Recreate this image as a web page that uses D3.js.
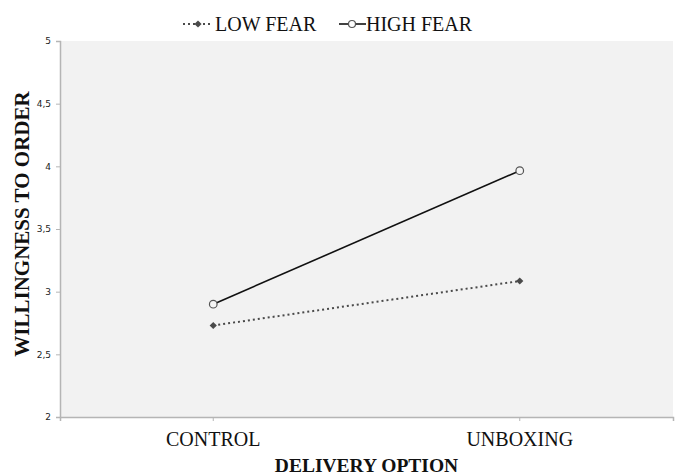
<!DOCTYPE html>
<html>
<head>
<meta charset="utf-8">
<script src="https://cdn.jsdelivr.net/npm/d3@7"></script>
<style>
  body { margin: 0; background: #fff; }
  svg text { font-family: "Liberation Serif", "Times New Roman", serif; }
  .tick text { font-family: "DejaVu Sans", Tahoma, sans-serif; }
</style>
</head>
<body>
<div id="chart"></div>
<script>
// data
const categories = ["CONTROL", "UNBOXING"];
const lowFear = [2.73, 3.085];
const highFear = [2.90, 3.965];
const yTicks = [2, 2.5, 3, 3.5, 4, 4.5, 5];
const seriesNames = ["LOW FEAR", "HIGH FEAR"];

const width = 678, height = 476;
const margin = {top: 41, right: 5, bottom: 59, left: 60};

const svg = d3.select("#chart").append("svg")
  .attr("width", width)
  .attr("height", height);

const x = d3.scaleBand()
  .domain(categories)
  .range([margin.left, width - margin.right]);

const y = d3.scaleLinear()
  .domain([2, 5])
  .range([height - margin.bottom, margin.top]);

// plot background
svg.append("rect")
  .attr("x", margin.left)
  .attr("y", margin.top)
  .attr("width", width - margin.right - margin.left)
  .attr("height", height - margin.bottom - margin.top)
  .attr("fill", "#f2f2f2");

// y axis
const yAxis = svg.append("g")
  .attr("transform", `translate(${margin.left},0)`)
  .call(d3.axisLeft(y).tickValues(yTicks).tickSize(4).tickPadding(5)
    .tickFormat(d => String(d).replace(".", ",")));
yAxis.select(".domain").attr("stroke", "#b5b5b5").attr("stroke-width", 1.5);
yAxis.selectAll(".tick line").attr("stroke", "#b5b5b5");
yAxis.selectAll(".tick text").attr("font-size", 9).attr("fill", "#222");

// x axis
const xAxis = svg.append("g")
  .attr("transform", `translate(0,${height - margin.bottom})`)
  .call(d3.axisBottom(x).tickSize(4).tickPadding(11).tickSizeOuter(4));
xAxis.select(".domain").attr("stroke", "#b5b5b5").attr("stroke-width", 1.5);
xAxis.selectAll(".tick line").attr("stroke", "#b5b5b5");
xAxis.selectAll(".tick text")
  .attr("font-size", 20)
  .attr("fill", "#111")
  .style("font-family", '"Liberation Serif", "Times New Roman", serif');

const cx = d => x(d) + x.bandwidth() / 2;
const line = d3.line()
  .x((d, i) => cx(categories[i]))
  .y(d => y(d));

// low fear: dotted with diamonds (square turned 45deg)
svg.append("path")
  .datum(lowFear)
  .attr("d", line)
  .attr("fill", "none")
  .attr("stroke", "#4a4a4a")
  .attr("stroke-width", 2)
  .attr("stroke-dasharray", "2,3");

const diamond = d3.symbol().type(d3.symbolSquare).size(26);
svg.selectAll(".low-pt")
  .data(lowFear)
  .join("path")
  .attr("class", "low-pt")
  .attr("transform", (d, i) => `translate(${cx(categories[i])},${y(d)}) rotate(45)`)
  .attr("d", diamond)
  .attr("fill", "#4a4a4a");

// high fear: solid with open circles
svg.append("path")
  .datum(highFear)
  .attr("d", line)
  .attr("fill", "none")
  .attr("stroke", "#111")
  .attr("stroke-width", 1.6);

svg.selectAll(".high-pt")
  .data(highFear)
  .join("circle")
  .attr("class", "high-pt")
  .attr("cx", (d, i) => cx(categories[i]))
  .attr("cy", d => y(d))
  .attr("r", 3.8)
  .attr("fill", "#f5f5f5")
  .attr("stroke", "#555")
  .attr("stroke-width", 1.2);

// legend
const lg = svg.append("g");
lg.append("line")
  .attr("x1", 183).attr("x2", 213).attr("y1", 24).attr("y2", 24)
  .attr("stroke", "#4a4a4a").attr("stroke-width", 2).attr("stroke-dasharray", "2,3");
lg.append("path")
  .attr("transform", "translate(198,24) rotate(45)")
  .attr("d", diamond)
  .attr("fill", "#4a4a4a");
lg.append("text")
  .attr("x", 215).attr("y", 31)
  .attr("font-size", 20).attr("fill", "#111")
  .text(seriesNames[0]);
lg.append("line")
  .attr("x1", 339).attr("x2", 366).attr("y1", 24).attr("y2", 24)
  .attr("stroke", "#111").attr("stroke-width", 1.6);
lg.append("circle")
  .attr("cx", 352).attr("cy", 24).attr("r", 3.5)
  .attr("fill", "#fff").attr("stroke", "#555").attr("stroke-width", 1.2);
lg.append("text")
  .attr("x", 366).attr("y", 31)
  .attr("font-size", 20).attr("fill", "#111")
  .text(seriesNames[1]);

// axis titles
svg.append("text")
  .attr("x", (margin.left + width - margin.right) / 2)
  .attr("y", 472)
  .attr("text-anchor", "middle")
  .attr("font-size", 19.5)
  .attr("font-weight", "bold")
  .attr("fill", "#111")
  .text("DELIVERY OPTION");

svg.append("text")
  .attr("transform", "translate(29,224) rotate(-90)")
  .attr("text-anchor", "middle")
  .attr("font-size", 21)
  .attr("font-weight", "bold")
  .attr("fill", "#111")
  .text("WILLINGNESS TO ORDER");
</script>
</body>
</html>
